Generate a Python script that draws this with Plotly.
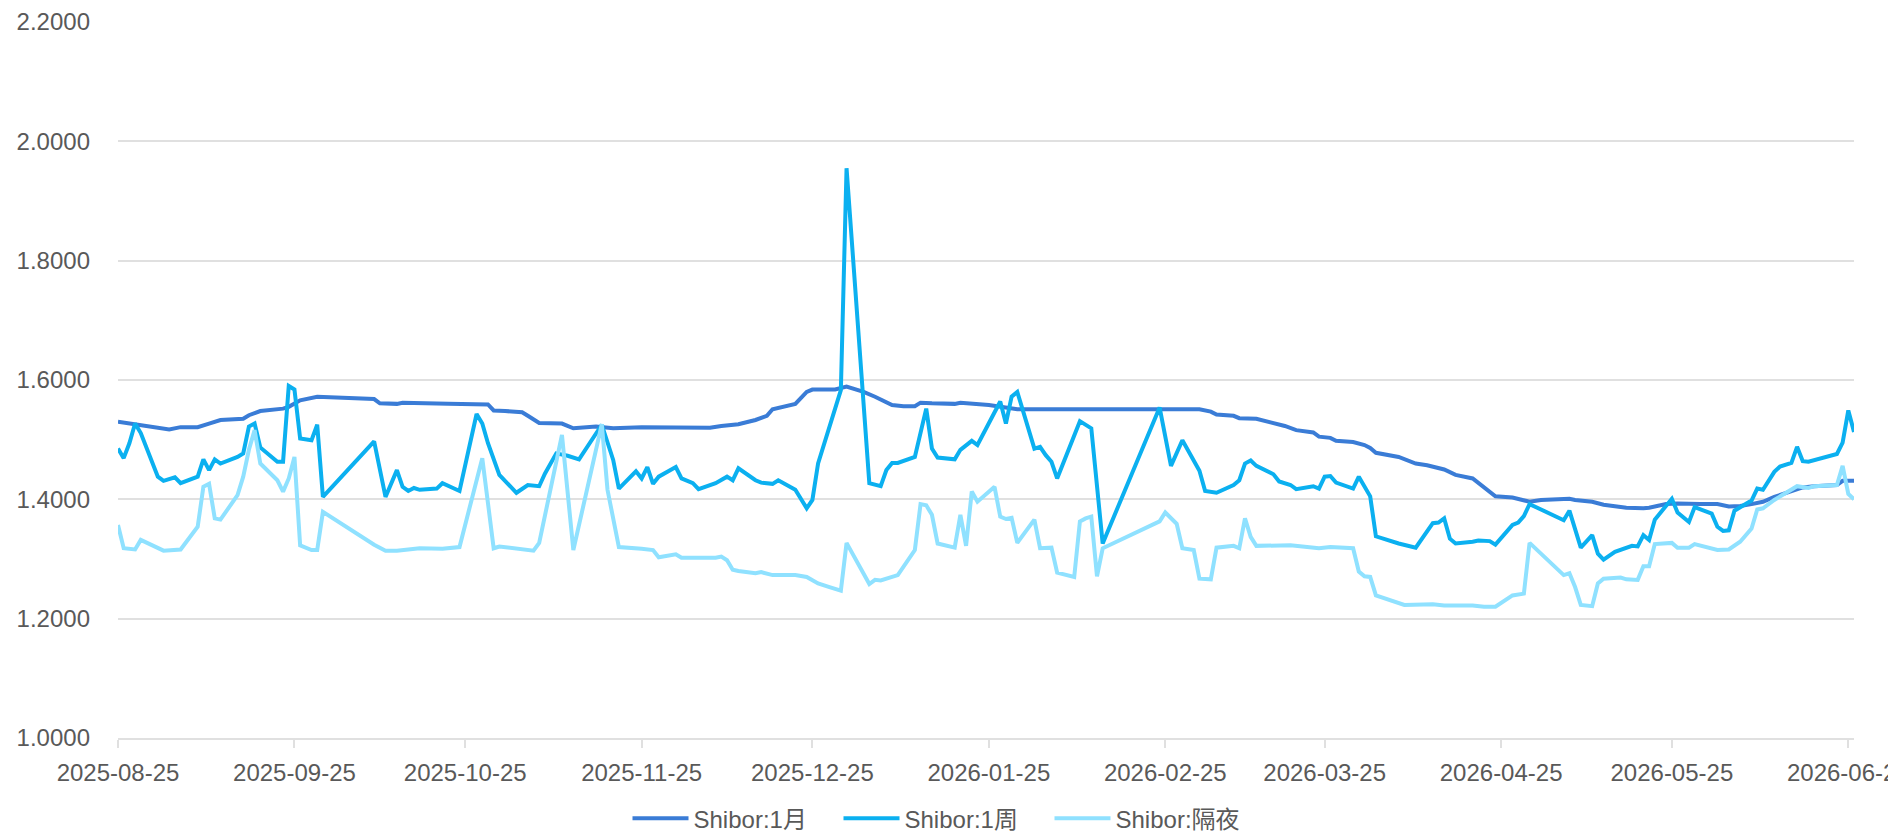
import plotly.graph_objects as go

SERIES_NAMES = ["Shibor:1月", "Shibor:1周", "Shibor:隔夜"]

M1_DATES = [
    "2025-08-25", "2025-08-28", "2025-09-03", "2025-09-05", "2025-09-08", "2025-09-10", "2025-09-12",
    "2025-09-16", "2025-09-17", "2025-09-19", "2025-09-23", "2025-09-24", "2025-09-26", "2025-09-29",
    "2025-10-03", "2025-10-09", "2025-10-10", "2025-10-13", "2025-10-14", "2025-10-17", "2025-10-22",
    "2025-10-29", "2025-10-30", "2025-11-01", "2025-11-04", "2025-11-05", "2025-11-07", "2025-11-11",
    "2025-11-13", "2025-11-17", "2025-11-20", "2025-11-25", "2025-12-01", "2025-12-07", "2025-12-09",
    "2025-12-12", "2025-12-15", "2025-12-17", "2025-12-18", "2025-12-20", "2025-12-22", "2025-12-24",
    "2025-12-25", "2025-12-29", "2025-12-31", "2026-01-03", "2026-01-05", "2026-01-08", "2026-01-10",
    "2026-01-12", "2026-01-13", "2026-01-15", "2026-01-19", "2026-01-20", "2026-01-22", "2026-01-25",
    "2026-01-30", "2026-02-11", "2026-03-03", "2026-03-05", "2026-03-06", "2026-03-09", "2026-03-10",
    "2026-03-13", "2026-03-16", "2026-03-18", "2026-03-20", "2026-03-23", "2026-03-24", "2026-03-26",
    "2026-03-27", "2026-03-30", "2026-04-01", "2026-04-02", "2026-04-03", "2026-04-07", "2026-04-10",
    "2026-04-12", "2026-04-15", "2026-04-17", "2026-04-20", "2026-04-22", "2026-04-24", "2026-04-27",
    "2026-04-30", "2026-05-02", "2026-05-07", "2026-05-08", "2026-05-11", "2026-05-13", "2026-05-16",
    "2026-05-17", "2026-05-20", "2026-05-21", "2026-05-24", "2026-05-26", "2026-05-30", "2026-06-02",
    "2026-06-04", "2026-06-06", "2026-06-08", "2026-06-10", "2026-06-12", "2026-06-15", "2026-06-17",
    "2026-06-19", "2026-06-23", "2026-06-24", "2026-06-26",
]
M1_VALUES = [
    1.530, 1.526, 1.517, 1.521, 1.521, 1.527, 1.533,
    1.535, 1.541, 1.548, 1.552, 1.555, 1.566, 1.572,
    1.570, 1.568, 1.561, 1.560, 1.562, 1.561, 1.560,
    1.559, 1.549, 1.548, 1.546, 1.540, 1.528, 1.527,
    1.519, 1.522, 1.519, 1.521, 1.520, 1.520, 1.523,
    1.526, 1.533, 1.540, 1.551, 1.556, 1.560, 1.580,
    1.584, 1.584, 1.589, 1.580, 1.572, 1.558, 1.556,
    1.556, 1.562, 1.561, 1.560, 1.562, 1.560, 1.558,
    1.551, 1.551, 1.551, 1.547, 1.542, 1.540, 1.536,
    1.535, 1.528, 1.523, 1.516, 1.512, 1.505, 1.503,
    1.498, 1.496, 1.491, 1.486, 1.478, 1.471, 1.460,
    1.457, 1.450, 1.441, 1.435, 1.420, 1.405, 1.403,
    1.396, 1.399, 1.401, 1.399, 1.396, 1.391, 1.388,
    1.386, 1.385, 1.386, 1.392, 1.393, 1.392, 1.392,
    1.388, 1.389, 1.392, 1.396, 1.404, 1.413, 1.420,
    1.422, 1.424, 1.431, 1.431,
]

W1_DATES = [
    "2025-08-25", "2025-08-26", "2025-08-27", "2025-08-28", "2025-08-29", "2025-09-01", "2025-09-02",
    "2025-09-04", "2025-09-05", "2025-09-08", "2025-09-09", "2025-09-10", "2025-09-11", "2025-09-12",
    "2025-09-15", "2025-09-16", "2025-09-17", "2025-09-18", "2025-09-19", "2025-09-22", "2025-09-23",
    "2025-09-24", "2025-09-25", "2025-09-26", "2025-09-28", "2025-09-29", "2025-09-30", "2025-10-09",
    "2025-10-11", "2025-10-13", "2025-10-14", "2025-10-15", "2025-10-16", "2025-10-17", "2025-10-20",
    "2025-10-21", "2025-10-24", "2025-10-27", "2025-10-28", "2025-10-29", "2025-10-31", "2025-11-03",
    "2025-11-05", "2025-11-07", "2025-11-08", "2025-11-10", "2025-11-12", "2025-11-14", "2025-11-18",
    "2025-11-20", "2025-11-21", "2025-11-24", "2025-11-25", "2025-11-26", "2025-11-27", "2025-11-28",
    "2025-12-01", "2025-12-02", "2025-12-04", "2025-12-05", "2025-12-08", "2025-12-10", "2025-12-11",
    "2025-12-12", "2025-12-15", "2025-12-16", "2025-12-18", "2025-12-19", "2025-12-22", "2025-12-24",
    "2025-12-25", "2025-12-26", "2025-12-30", "2025-12-31", "2026-01-04", "2026-01-06", "2026-01-07",
    "2026-01-08", "2026-01-09", "2026-01-12", "2026-01-14", "2026-01-15", "2026-01-16", "2026-01-19",
    "2026-01-20", "2026-01-22", "2026-01-23", "2026-01-27", "2026-01-28", "2026-01-29", "2026-01-30",
    "2026-02-02", "2026-02-03", "2026-02-04", "2026-02-05", "2026-02-06", "2026-02-10", "2026-02-11",
    "2026-02-12", "2026-02-14", "2026-02-24", "2026-02-26", "2026-02-28", "2026-03-03", "2026-03-04",
    "2026-03-06", "2026-03-09", "2026-03-10", "2026-03-11", "2026-03-12", "2026-03-13", "2026-03-16",
    "2026-03-17", "2026-03-19", "2026-03-20", "2026-03-23", "2026-03-24", "2026-03-25", "2026-03-26",
    "2026-03-27", "2026-03-30", "2026-03-31", "2026-04-02", "2026-04-03", "2026-04-07", "2026-04-10",
    "2026-04-13", "2026-04-14", "2026-04-15", "2026-04-16", "2026-04-17", "2026-04-20", "2026-04-21",
    "2026-04-23", "2026-04-24", "2026-04-27", "2026-04-28", "2026-04-29", "2026-04-30", "2026-05-06",
    "2026-05-07", "2026-05-09", "2026-05-11", "2026-05-12", "2026-05-13", "2026-05-15", "2026-05-18",
    "2026-05-19", "2026-05-20", "2026-05-21", "2026-05-22", "2026-05-25", "2026-05-26", "2026-05-28",
    "2026-05-29", "2026-06-01", "2026-06-02", "2026-06-03", "2026-06-04", "2026-06-05", "2026-06-08",
    "2026-06-09", "2026-06-10", "2026-06-12", "2026-06-13", "2026-06-15", "2026-06-16", "2026-06-17",
    "2026-06-18", "2026-06-23", "2026-06-24", "2026-06-25", "2026-06-26",
]
W1_VALUES = [
    1.485, 1.469, 1.494, 1.527, 1.511, 1.438, 1.431,
    1.437, 1.427, 1.438, 1.467, 1.449, 1.467, 1.460,
    1.471, 1.477, 1.522, 1.527, 1.487, 1.463, 1.463,
    1.590, 1.584, 1.502, 1.499, 1.525, 1.404, 1.497,
    1.404, 1.449, 1.421, 1.414, 1.419, 1.416, 1.418,
    1.427, 1.414, 1.543, 1.527, 1.494, 1.441, 1.411,
    1.424, 1.422, 1.443, 1.477, 1.473, 1.467, 1.525,
    1.466, 1.418, 1.447, 1.435, 1.454, 1.426, 1.438,
    1.454, 1.435, 1.427, 1.417, 1.427, 1.438, 1.432,
    1.452, 1.432, 1.428, 1.426, 1.432, 1.416, 1.385,
    1.399, 1.460, 1.583, 1.955, 1.427, 1.422, 1.449,
    1.461, 1.461, 1.471, 1.552, 1.485, 1.470, 1.467,
    1.483, 1.498, 1.491, 1.564, 1.527, 1.572, 1.580,
    1.485, 1.488, 1.474, 1.463, 1.435, 1.531, 1.524,
    1.519, 1.326, 1.554, 1.456, 1.499, 1.448, 1.414,
    1.411, 1.424, 1.432, 1.460, 1.465, 1.456, 1.442,
    1.430, 1.424, 1.417, 1.422, 1.418, 1.438, 1.439,
    1.428, 1.418, 1.438, 1.405, 1.338, 1.326, 1.319,
    1.360, 1.361, 1.368, 1.334, 1.326, 1.329, 1.331,
    1.330, 1.324, 1.357, 1.361, 1.372, 1.392, 1.365,
    1.381, 1.319, 1.340, 1.309, 1.299, 1.312, 1.322,
    1.321, 1.340, 1.332, 1.366, 1.401, 1.378, 1.362,
    1.387, 1.376, 1.354, 1.347, 1.348, 1.381, 1.398,
    1.418, 1.416, 1.446, 1.455, 1.461, 1.488, 1.464,
    1.463, 1.476, 1.495, 1.549, 1.513,
]

ON_DATES = [
    "2025-08-25", "2025-08-26", "2025-08-28", "2025-08-29", "2025-09-02", "2025-09-05", "2025-09-08",
    "2025-09-09", "2025-09-10", "2025-09-11", "2025-09-12", "2025-09-15", "2025-09-16", "2025-09-17",
    "2025-09-18", "2025-09-19", "2025-09-22", "2025-09-23", "2025-09-24", "2025-09-25", "2025-09-26",
    "2025-09-28", "2025-09-29", "2025-09-30", "2025-10-09", "2025-10-11", "2025-10-13", "2025-10-17",
    "2025-10-21", "2025-10-24", "2025-10-28", "2025-10-30", "2025-10-31", "2025-11-04", "2025-11-06",
    "2025-11-07", "2025-11-11", "2025-11-13", "2025-11-18", "2025-11-19", "2025-11-21", "2025-11-25",
    "2025-11-27", "2025-11-28", "2025-12-01", "2025-12-02", "2025-12-08", "2025-12-09", "2025-12-10",
    "2025-12-11", "2025-12-12", "2025-12-15", "2025-12-16", "2025-12-18", "2025-12-22", "2025-12-24",
    "2025-12-26", "2025-12-28", "2025-12-30", "2025-12-31", "2026-01-04", "2026-01-05", "2026-01-06",
    "2026-01-08", "2026-01-09", "2026-01-12", "2026-01-13", "2026-01-14", "2026-01-15", "2026-01-16",
    "2026-01-19", "2026-01-20", "2026-01-21", "2026-01-22", "2026-01-23", "2026-01-26", "2026-01-27",
    "2026-01-28", "2026-01-29", "2026-01-30", "2026-02-02", "2026-02-03", "2026-02-05", "2026-02-06",
    "2026-02-09", "2026-02-10", "2026-02-11", "2026-02-12", "2026-02-13", "2026-02-14", "2026-02-24",
    "2026-02-25", "2026-02-27", "2026-02-28", "2026-03-02", "2026-03-03", "2026-03-05", "2026-03-06",
    "2026-03-09", "2026-03-10", "2026-03-11", "2026-03-12", "2026-03-13", "2026-03-19", "2026-03-24",
    "2026-03-26", "2026-03-30", "2026-03-31", "2026-04-01", "2026-04-02", "2026-04-03", "2026-04-08",
    "2026-04-13", "2026-04-15", "2026-04-20", "2026-04-22", "2026-04-24", "2026-04-27", "2026-04-29",
    "2026-04-30", "2026-05-06", "2026-05-07", "2026-05-08", "2026-05-09", "2026-05-11", "2026-05-12",
    "2026-05-13", "2026-05-16", "2026-05-17", "2026-05-19", "2026-05-20", "2026-05-21", "2026-05-22",
    "2026-05-25", "2026-05-26", "2026-05-28", "2026-05-29", "2026-06-02", "2026-06-04", "2026-06-06",
    "2026-06-08", "2026-06-09", "2026-06-10", "2026-06-12", "2026-06-14", "2026-06-16", "2026-06-18",
    "2026-06-19", "2026-06-23", "2026-06-24", "2026-06-25", "2026-06-26",
]
ON_VALUES = [
    1.357, 1.318, 1.316, 1.332, 1.314, 1.316, 1.354,
    1.421, 1.426, 1.368, 1.366, 1.407, 1.438, 1.483,
    1.516, 1.460, 1.432, 1.413, 1.435, 1.471, 1.323,
    1.315, 1.315, 1.379, 1.324, 1.314, 1.314, 1.318,
    1.317, 1.320, 1.469, 1.318, 1.321, 1.316, 1.314,
    1.327, 1.508, 1.315, 1.526, 1.416, 1.320, 1.317,
    1.315, 1.303, 1.308, 1.302, 1.302, 1.304, 1.298,
    1.282, 1.280, 1.276, 1.278, 1.273, 1.273, 1.270,
    1.259, 1.253, 1.247, 1.327, 1.258, 1.265, 1.264,
    1.270, 1.273, 1.315, 1.392, 1.390, 1.374, 1.326,
    1.319, 1.374, 1.322, 1.413, 1.396, 1.421, 1.371,
    1.367, 1.369, 1.327, 1.366, 1.318, 1.319, 1.277,
    1.270, 1.363, 1.368, 1.371, 1.271, 1.318, 1.363,
    1.378, 1.359, 1.318, 1.315, 1.267, 1.266, 1.319,
    1.322, 1.318, 1.368, 1.337, 1.322, 1.323, 1.318,
    1.320, 1.318, 1.279, 1.271, 1.270, 1.239, 1.223,
    1.224, 1.222, 1.222, 1.220, 1.220, 1.239, 1.242,
    1.327, 1.273, 1.276, 1.253, 1.223, 1.221, 1.259,
    1.267, 1.269, 1.266, 1.265, 1.288, 1.288, 1.325,
    1.327, 1.319, 1.319, 1.325, 1.315, 1.316, 1.329,
    1.351, 1.383, 1.385, 1.399, 1.410, 1.422, 1.419,
    1.422, 1.424, 1.456, 1.409, 1.400,
]

X_TICKS = [
    "2025-08-25", "2025-09-25", "2025-10-25", "2025-11-25", "2025-12-25", "2026-01-25",
    "2026-02-25", "2026-03-25", "2026-04-25", "2026-05-25", "2026-06-25",
]
X_RANGE = ["2025-08-25", "2026-06-26"]
Y_TICKS = [1.0, 1.2, 1.4, 1.6, 1.8, 2.0, 2.2]

COLORS = ["#3a7cd6", "#0bb0f0", "#8fe1ff"]
TEXT_COLOR = "#595959"
GRID_COLOR = "#e0e0e0"
FONT = "Liberation Sans, Arial, Noto Sans CJK SC, sans-serif"

fig = go.Figure()
for name, xs, ys, color in zip(
    SERIES_NAMES,
    [M1_DATES, W1_DATES, ON_DATES],
    [M1_VALUES, W1_VALUES, ON_VALUES],
    COLORS,
):
    fig.add_trace(go.Scatter(
        x=xs, y=ys, name=name, mode="lines",
        line=dict(color=color, width=4),
    ))

fig.update_layout(
    width=1888, height=832,
    margin=dict(l=118, r=34, t=22, b=94, autoexpand=False),
    plot_bgcolor="white", paper_bgcolor="white",
    font=dict(family=FONT, size=24, color=TEXT_COLOR),
    showlegend=True,
    legend=dict(
        orientation="h", xref="container", yref="container",
        x=0.5, xanchor="center", y=0.016, yanchor="middle",
        font=dict(family=FONT, size=24, color=TEXT_COLOR),
        itemwidth=56, entrywidth=140, entrywidthmode="pixels",
        bgcolor="rgba(0,0,0,0)",
    ),
    xaxis=dict(
        type="date", range=X_RANGE, automargin=False,
        tickvals=X_TICKS, ticktext=X_TICKS,
        showgrid=False, zeroline=False,
        showline=True, linecolor=GRID_COLOR, linewidth=2,
        ticks="outside", ticklen=8, tickwidth=2, tickcolor=GRID_COLOR,
        tickfont=dict(family=FONT, size=24, color=TEXT_COLOR),
        ticklabelstandoff=4, ticklabeloverflow="allow",
    ),
    yaxis=dict(
        range=[1.0, 2.2], tickvals=Y_TICKS, tickformat=".4f", automargin=False,
        showgrid=True, gridcolor=GRID_COLOR, gridwidth=2,
        zeroline=False, showline=False, ticks="",
        tickfont=dict(family=FONT, size=24, color=TEXT_COLOR),
        ticklabelstandoff=27,
    ),
)

fig.write_html(
    "out.html",
    config={"displayModeBar": False},
    post_script="document.body.style.margin='0';document.body.style.overflow='hidden';",
)
